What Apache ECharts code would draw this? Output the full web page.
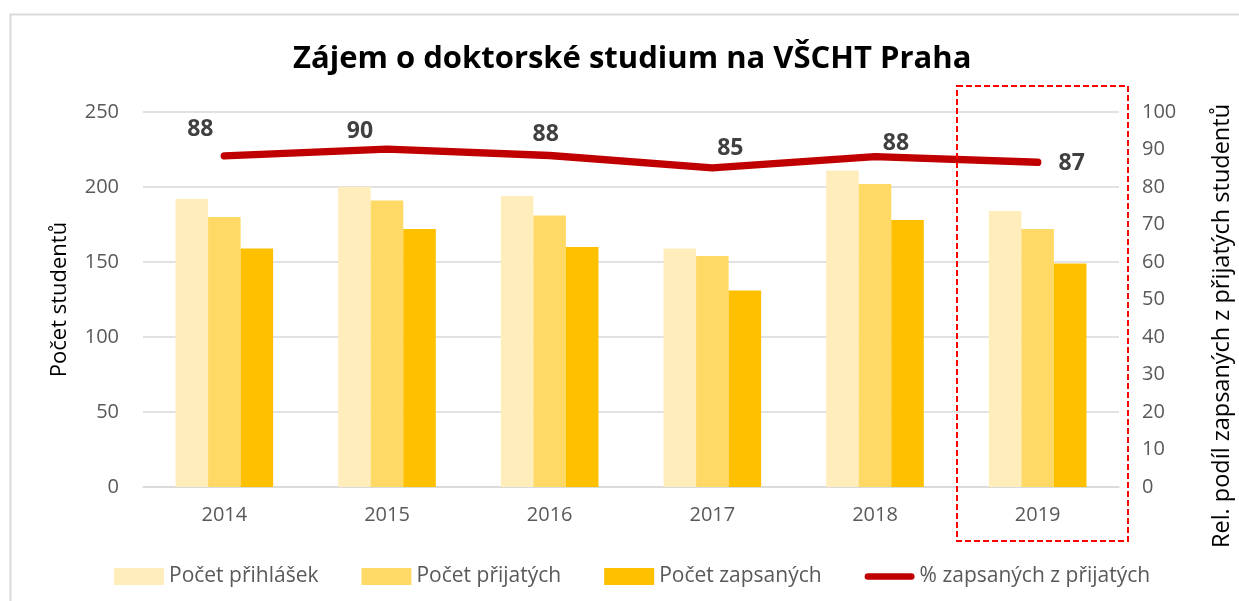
<!DOCTYPE html>
<html>
<head>
<meta charset="utf-8">
<script src="https://cdn.jsdelivr.net/npm/echarts@6/dist/echarts.min.js"></script>
<style>html,body{margin:0;padding:0;background:#fff;}#c{width:1239px;height:601px;}</style>
</head>
<body>
<div id="c"></div>
<script>
const years = ['2014', '2015', '2016', '2017', '2018', '2019'];
const prihlasky = [192, 200, 194, 159, 211, 184];
const prijati = [180, 191, 181, 154, 202, 172];
const zapsani = [159, 172, 160, 131, 178, 149];
const podil = [88.3, 90.1, 88.4, 85.1, 88.1, 86.6];
const leftTicks = [0, 250, 50];
const rightTicks = [0, 100, 10];

const labelOffsets = [[-24, -26], [-27, -18], [-4, -21], [18, -19], [21, -13], [34, 1]];

const FONT = '"Open Sans", "Noto Sans", sans-serif';
const GREY = '#595959';

const chart = echarts.init(document.getElementById('c'));
chart.setOption({
  animation: false,
  backgroundColor: '#ffffff',
  title: {
    text: 'Zájem o doktorské studium na VŠCHT Praha',
    left: 288,
    top: 39,
    padding: 5,
    textStyle: { fontFamily: FONT, fontWeight: 'bold', fontSize: 31, color: '#000000' }
  },
  grid: { left: 143, right: 120, top: 112, bottom: 114 },
  legend: {
    left: 109,
    top: 561,
    itemWidth: 50,
    itemHeight: 17,
    itemGap: 43,
    textStyle: { fontFamily: FONT, fontSize: 21, color: GREY },
    data: [
      { name: 'Počet přihlášek', icon: 'rect' },
      { name: 'Počet přijatých', icon: 'rect' },
      { name: 'Počet zapsaných', icon: 'rect' },
      { name: '% zapsaných z přijatých', icon: 'path://M4,0H56A4,4,0,0,1,56,8H4A4,4,0,0,1,4,0Z' }
    ]
  },
  xAxis: {
    type: 'category',
    data: years,
    axisLine: { lineStyle: { color: '#D9D9D9', width: 1.5 } },
    axisTick: { show: false },
    axisLabel: { fontFamily: FONT, fontSize: 20, color: GREY, margin: 18 }
  },
  yAxis: [
    {
      type: 'value',
      min: leftTicks[0], max: leftTicks[1], interval: leftTicks[2],
      name: 'Počet studentů',
      nameLocation: 'middle',
      nameGap: 72,
      nameTextStyle: { fontFamily: FONT, fontSize: 22, color: '#000000' },
      axisLine: { show: false },
      axisTick: { show: false },
      axisLabel: { fontFamily: FONT, fontSize: 20, color: GREY, margin: 24 },
      splitLine: { lineStyle: { color: '#D9D9D9', width: 1.5 } }
    },
    {
      type: 'value',
      min: rightTicks[0], max: rightTicks[1], interval: rightTicks[2],
      position: 'right',
      axisLine: { show: false },
      axisTick: { show: false },
      axisLabel: { fontFamily: FONT, fontSize: 20, color: GREY, margin: 23 },
      splitLine: { show: false }
    }
  ],
  graphic: [
    { type: 'rect', silent: true, shape: { x: 10.5, y: 14.5, width: 1300, height: 700 },
      style: { fill: 'none', stroke: '#D9D9D9', lineWidth: 2 } },
    { type: 'rect', silent: true, z: 100, shape: { x: 957, y: 86, width: 171, height: 455 },
      style: { fill: 'none', stroke: '#FF0000', lineWidth: 2, lineDash: [6, 3] } },
    { type: 'text', silent: true, x: 1222, y: 326, rotation: Math.PI / 2,
      style: { text: 'Rel. podíl zapsaných z přijatých studentů', fontFamily: FONT, fontSize: 23.5,
               fill: '#000000', align: 'center', verticalAlign: 'middle' } }
  ],
  series: [
    { name: 'Počet přihlášek', type: 'bar', data: prihlasky, barGap: '0%', barCategoryGap: '40%',
      itemStyle: { color: '#FFEDBC' } },
    { name: 'Počet přijatých', type: 'bar', data: prijati, barGap: '0%', barCategoryGap: '40%',
      itemStyle: { color: '#FFD966' } },
    { name: 'Počet zapsaných', type: 'bar', data: zapsani, barGap: '0%', barCategoryGap: '40%',
      itemStyle: { color: '#FFC000' } },
    { name: '% zapsaných z přijatých', type: 'line', yAxisIndex: 1,
      data: podil.map((v, i) => ({
        value: v,
        label: { offset: labelOffsets[i] }
      })),
      symbol: 'circle', symbolSize: 1, showSymbol: true,
      itemStyle: { color: '#C00000' },
      lineStyle: { color: '#C00000', width: 7.5, cap: 'round', join: 'round' },
      label: {
        show: true, position: 'inside',
        formatter: p => Math.round(p.value),
        fontFamily: FONT, fontSize: 23, fontWeight: 'bold', color: '#404040'
      },
      z: 10
    }
  ]
});
</script>
</body>
</html>
